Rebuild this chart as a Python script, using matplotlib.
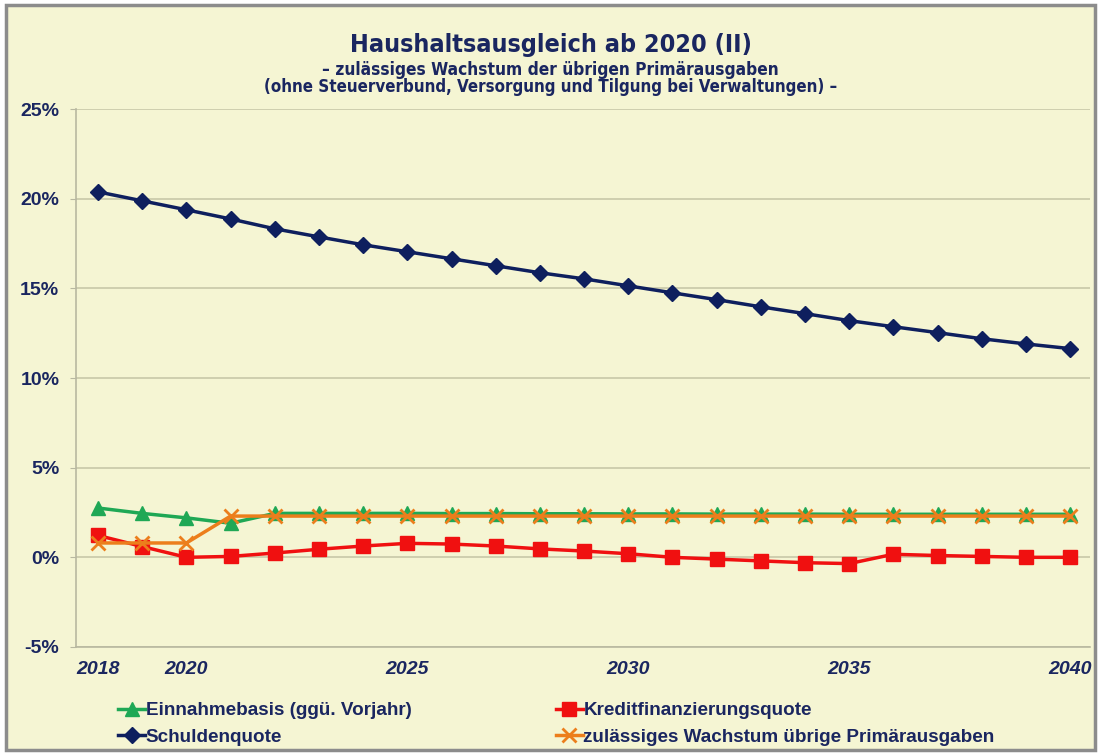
import matplotlib
matplotlib.use('Agg')
import matplotlib.pyplot as plt
from matplotlib.patches import Rectangle
from matplotlib.ticker import FuncFormatter

years = list(range(2018, 2041))
einnahmebasis = [2.75, 2.45, 2.2, 1.9, 2.45, 2.45, 2.45, 2.45, 2.44, 2.44, 2.43, 2.43, 2.42,
                 2.42, 2.41, 2.41, 2.41, 2.4, 2.4, 2.4, 2.4, 2.4, 2.4]
kredit = [1.22, 0.6, 0.0, 0.05, 0.24, 0.45, 0.63, 0.78, 0.74, 0.63, 0.47, 0.35, 0.2,
          0.0, -0.1, -0.2, -0.3, -0.35, 0.17, 0.1, 0.05, 0.0, 0.0]
schulden = [20.38, 19.88, 19.38, 18.87, 18.32, 17.87, 17.43, 17.04, 16.65, 16.26, 15.87,
            15.53, 15.14, 14.75, 14.37, 13.97, 13.59, 13.2, 12.86, 12.53, 12.19, 11.9, 11.64]
wachstum = [0.8, 0.8, 0.8, 2.3, 2.3, 2.3, 2.3, 2.3, 2.3, 2.3, 2.3, 2.3, 2.3,
            2.3, 2.3, 2.3, 2.3, 2.3, 2.3, 2.3, 2.3, 2.3, 2.3]
xticks = [2018, 2020, 2025, 2030, 2035, 2040]

navy = '#1a2660'
bg = '#f5f5d3'

fig = plt.figure(figsize=(11.01, 7.53), dpi=100, facecolor='white')
# outer frame behind everything
fig.patches.append(Rectangle((0.005, 0.004), 0.99, 0.99, transform=fig.transFigure,
                             facecolor=bg, edgecolor='#8c8c8c', linewidth=2.5, zorder=-10))

ax = fig.add_axes([0.069, 0.1408, 0.921, 0.7144])
ax.set_facecolor(bg)

l1, = ax.plot(years, einnahmebasis, color='#1fa855', marker='^', markersize=10, linewidth=2.5,
              label='Einnahmebasis (ggü. Vorjahr)', zorder=3)
l2, = ax.plot(years, kredit, color='#f01010', marker='s', markersize=10, linewidth=2.5,
              label='Kreditfinanzierungsquote', zorder=4)
l3, = ax.plot(years, schulden, color='#0e1f5e', marker='D', markersize=8, linewidth=2.5,
              label='Schuldenquote', zorder=4)
l4, = ax.plot(years, wachstum, color='#ec7e1c', marker='x', markersize=10, markeredgewidth=2,
              linewidth=2.5, label='zulässiges Wachstum übrige Primärausgaben', zorder=5)

ax.set_xlim(2017.5, 2040.45)
ax.set_ylim(-5, 25)
ax.set_yticks(range(-5, 26, 5))
ax.yaxis.set_major_formatter(FuncFormatter(lambda v, p: '%d%%' % v))
ax.set_xticks(xticks)
ax.grid(axis='y', color='#c8c8a8', linewidth=1.2)
ax.set_axisbelow(True)
for s in ['top', 'right']:
    ax.spines[s].set_visible(False)
for s in ['left', 'bottom']:
    ax.spines[s].set_color('#b8b8a0')
    ax.spines[s].set_linewidth(1.2)
ax.tick_params(axis='y', length=4, color='#b8b8a0', pad=8)
ax.tick_params(axis='x', length=0, pad=10)
for t in ax.get_yticklabels():
    t.set_fontfamily('Liberation Sans')
    t.set_fontweight('bold')
    t.set_fontsize(14)
    t.set_color(navy)
for t in ax.get_xticklabels():
    t.set_fontfamily('Liberation Sans')
    t.set_fontweight('bold')
    t.set_fontstyle('italic')
    t.set_fontsize(14)
    t.set_color(navy)

fig.text(0.5, 0.94, 'Haushaltsausgleich ab 2020 (II)', ha='center', va='center',
         family='DejaVu Sans', fontstretch='condensed', fontweight='bold', fontsize=18, color=navy)
fig.text(0.5, 0.907, '– zulässiges Wachstum der übrigen Primärausgaben', ha='center', va='center',
         family='DejaVu Sans', fontstretch='condensed', fontweight='bold', fontsize=12.4, color=navy)
fig.text(0.5, 0.885, '(ohne Steuerverbund, Versorgung und Tilgung bei Verwaltungen) –', ha='center',
         va='center', family='DejaVu Sans', fontstretch='condensed', fontweight='bold',
         fontsize=12.2, color=navy)

leg = fig.legend([l1, l3, l2, l4], [l1.get_label(), l3.get_label(), l2.get_label(), l4.get_label()],
                 ncol=2, loc='lower left', bbox_to_anchor=(0.092, -0.013), frameon=False,
                 handlelength=1.4, handletextpad=0.05, columnspacing=7.65, labelspacing=0.5,
                 prop={'family': 'Liberation Sans', 'weight': 'bold', 'size': 13.6})
for t in leg.get_texts():
    t.set_color(navy)

fig.savefig('out.png', dpi=100, facecolor=fig.get_facecolor())
